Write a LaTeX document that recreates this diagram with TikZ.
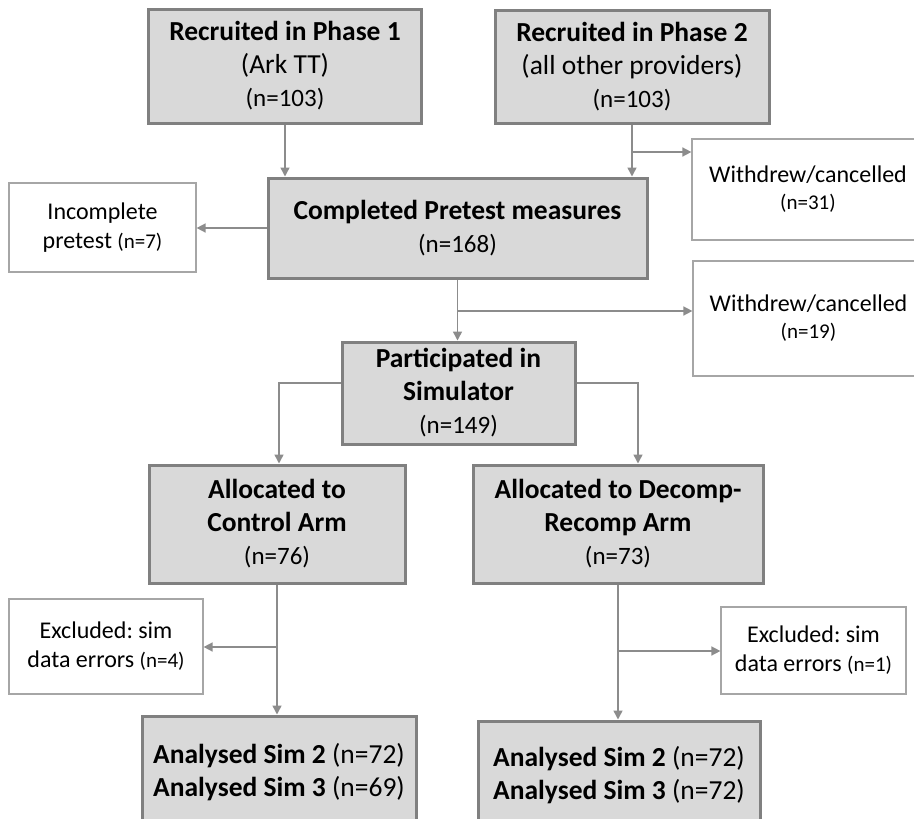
\documentclass[tikz,border=0pt]{standalone}
\usepackage{fontspec}
\setmainfont{Carlito}
\usetikzlibrary{arrows.meta,calc,positioning}
\definecolor{boxgray}{HTML}{D9D9D9}
\definecolor{boxline}{HTML}{808080}
\definecolor{sideline}{HTML}{A6A6A6}
\definecolor{arrowgray}{HTML}{8C8C8C}
\newcommand{\cnt}[1]{{\fontsize{25}{33}\selectfont #1}}
\newcommand{\smallcnt}[1]{{\fontsize{21}{27}\selectfont #1}}
\frenchspacing

\begin{document}
\begin{tikzpicture}
	[x=1pt,y=-1pt,every node/.style={align=center,inner sep=0pt},
	mainbox/.style={draw=boxline,line width=3pt,fill=boxgray,
		font=\fontsize{27.5}{33}\selectfont},
	lowtext/.style={execute at begin node={\rule{0pt}{27pt}}},
	sidebox/.style={draw=sideline,line width=1.2pt,fill=white,
		font=\fontsize{24}{29}\selectfont},
	flow/.style={draw=arrowgray,line width=1.5pt,-{Triangle[length=9pt,width=9pt]}}]

	\clip (0,0) rectangle (914,819);
	\fill[white] (0,0) rectangle (914,819);

	\node[mainbox,lowtext,minimum width=273pt,minimum height=114pt] (p1) at (285,66)
	{\textbf{Recruited in Phase 1}\\(Ark TT)\\\cnt{(n=103)}};
	\node[mainbox,lowtext,minimum width=274pt,minimum height=113pt] (p2) at (632,66.5)
	{\textbf{Recruited in Phase 2}\\(all other providers)\\\cnt{(n=103)}};
	\node[mainbox,lowtext,minimum width=379pt,minimum height=100pt] (cmp) at (457.5,228)
	{\textbf{Completed Pretest measures}\\\cnt{(n=168)}};
	\node[sidebox,minimum width=187pt,minimum height=89pt] (inc) at (102.5,227.5)
	{Incomplete\\pretest \smallcnt{(n=7)}};
	\node[sidebox,font=\fontsize{24}{27}\selectfont,minimum width=232pt,
	minimum height=101pt] (wd1) at (808,189.5)
	{Withdrew/cancelled\\\smallcnt{(n=31)}};
	\node[sidebox,font=\fontsize{24}{27}\selectfont,minimum width=231pt,
	minimum height=115pt] (wd2) at (808.5,318.5)
	{Withdrew/cancelled\\\smallcnt{(n=19)}};
	\node[mainbox,lowtext,minimum width=233pt,minimum height=102pt] (sim) at (458.5,393)
	{\textbf{Participated in}\\\textbf{Simulator}\\\cnt{(n=149)}};
	\node[mainbox,lowtext,minimum width=256pt,minimum height=118pt] (ctl) at (277,524)
	{\textbf{Allocated to}\\\textbf{Control Arm}\\\cnt{(n=76)}};
	\node[mainbox,lowtext,minimum width=290pt,minimum height=118pt] (dec) at (618,524)
	{\textbf{Allocated to Decomp-}\\\textbf{Recomp Arm}\\\cnt{(n=73)}};
	\node[sidebox,minimum width=194pt,minimum height=95pt] (exl) at (106,646.5)
	{Excluded: sim\\data errors \smallcnt{(n=4)}};
	\node[sidebox,minimum width=185pt,minimum height=87pt] (exr) at (813.5,650.5)
	{Excluded: sim\\data errors \smallcnt{(n=1)}};
	\node[mainbox,minimum width=274pt,minimum height=112pt] (anl) at (279,772)
	{\textbf{Analysed Sim 2} (n=72)\\\textbf{Analysed Sim 3} (n=69)};
	\node[mainbox,minimum width=282pt,minimum height=108pt] (anr) at (619,775)
	{\textbf{Analysed Sim 2} (n=72)\\\textbf{Analysed Sim 3} (n=72)};

	% branch points on the flow lines
	\coordinate (b1) at (632,152);
	\coordinate (b2) at (457.5,311);
	\coordinate (b3) at (277,647);
	\coordinate (b4) at (618,651);
	\coordinate (sl) at (279,383);
	\coordinate (sr) at (638,383);

	\path
	\foreach \startNode/\endNode in {p1/cmp,p2/cmp,cmp/sim,ctl/anl,dec/anr}{
		(\startNode.south) edge[flow] (\startNode.south |- \endNode.north)
	};
	\path
	\foreach \startNode/\endNode in {b1/wd1.west,b2/wd2.west,b4/exr.west,
		b3/exl.east,cmp.west/inc.east}{
		(\startNode) edge[flow] (\startNode -| \endNode)
	};

	\draw[flow] (sim.west |- sl) -| (sl |- ctl.north);
	\draw[flow] (sim.east |- sr) -| (sr |- dec.north);
\end{tikzpicture}
\end{document}
